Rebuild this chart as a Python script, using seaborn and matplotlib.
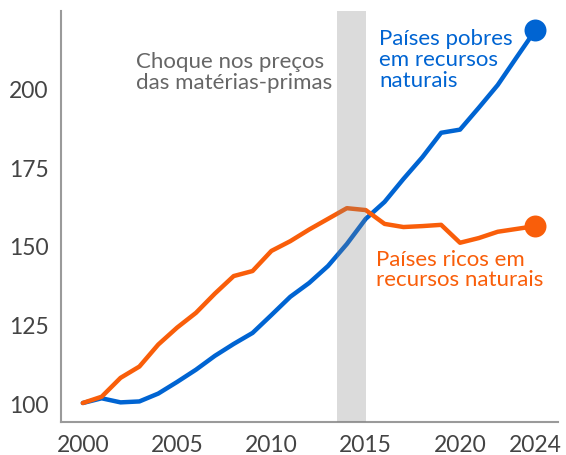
import numpy as np
import pandas as pd
import matplotlib
matplotlib.use("Agg")
import matplotlib.pyplot as plt
import seaborn as sns

years = list(range(2000, 2025))
pobres = [100, 101.5, 100.2, 100.5, 103, 106.7, 110.6, 115, 118.8, 122.3,
          128, 133.8, 138.2, 143.6, 150.6, 158.6, 164, 171.3, 178.2, 186,
          187, 194, 201.2, 210, 218.7]
ricos = [100, 102, 108, 111.6, 118.6, 124, 128.7, 134.8, 140.4, 142,
         148.4, 151.5, 155.2, 158.6, 162, 161.4, 157, 156, 156.3, 156.7,
         151, 152.5, 154.5, 155.4, 156.3]
xticks = [2000, 2005, 2010, 2015, 2020, 2024]
yticks = [100, 125, 150, 175, 200]
choque = (2013.5, 2015)

BLUE = "#0064D2"
ORANGE = "#F95E0A"
GRAY = "#666666"
AXIS = "#9a9a9a"

df = pd.DataFrame({"ano": years * 2,
                   "valor": pobres + ricos,
                   "grupo": ["pobres"] * len(years) + ["ricos"] * len(years)})

sns.set_style("white")
plt.rcParams["font.family"] = ["Lato", "DejaVu Sans"]

fig = plt.figure(figsize=(5.66, 4.56), dpi=100)
ax = fig.add_axes([0.108, 0.072, 0.878, 0.902])

sns.lineplot(data=df, x="ano", y="valor", hue="grupo",
             palette={"pobres": BLUE, "ricos": ORANGE},
             linewidth=3.2, legend=False, ax=ax, zorder=2)
ax.scatter([years[-1]], [pobres[-1]], s=250, color=BLUE, zorder=3, lw=0)
ax.scatter([years[-1]], [ricos[-1]], s=250, color=ORANGE, zorder=3, lw=0)

ax.axvspan(*choque, color="#808080", alpha=0.28, lw=0, zorder=4)

ax.set_xlim(1998.85, 2025.2)
ax.set_ylim(93.9, 224.8)
ax.set_xticks(xticks)
ax.set_yticks(yticks)
ax.set_xlabel("")
ax.set_ylabel("")

for s in ["top", "right"]:
    ax.spines[s].set_visible(False)
for s in ["left", "bottom"]:
    ax.spines[s].set_color(AXIS)
    ax.spines[s].set_linewidth(1.5)
ax.tick_params(axis="both", direction="in", length=6, width=1.5,
               color=AXIS, labelcolor="#444444", labelsize=16.5)
ax.tick_params(axis="x", pad=8.5)
ax.tick_params(axis="y", pad=9)

ax.text(2002.8, 205.5, "Choque nos preços\ndas matérias-primas",
        color=GRAY, fontsize=16, va="center", ha="left", linespacing=1.05)
ax.text(2015.7, 209.5, "Países pobres\nem recursos\nnaturais",
        color=BLUE, fontsize=16, va="center", ha="left", linespacing=1.05)
ax.text(2015.55, 142.7, "Países ricos em\nrecursos naturais",
        color=ORANGE, fontsize=16, va="center", ha="left", linespacing=0.98)

fig.savefig("out.png", dpi=100)
